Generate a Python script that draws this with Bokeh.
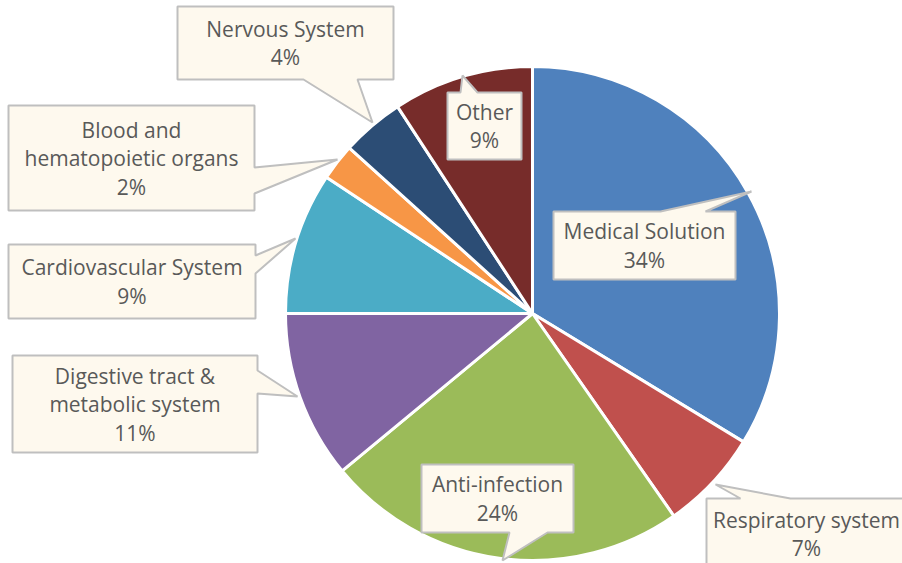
import math
from bokeh.plotting import figure
from bokeh.models import Range1d, ColumnDataSource
from bokeh.core.properties import value
from bokeh.embed import file_html
from bokeh.resources import INLINE

# ---- data ----
categories = ["Medical Solution", "Respiratory system", "Anti-infection",
              "Digestive tract &\nmetabolic system", "Cardiovascular System",
              "Blood and\nhematopoietic organs", "Nervous System", "Other"]
shares = [33.7, 6.6, 23.7, 11.0, 9.3, 2.4, 4.1, 9.2]
colors = ["#4F81BD", "#C0504D", "#9BBB59", "#8064A2", "#4BACC6",
          "#F79646", "#2C4D75", "#772C2A"]

# ---- layout (screen pixel coordinates) ----
CX, CY, R = 532, 313, 247
# callout boxes: (x0, y0, x1, y1), pointer side, pointer base (a, b), tip (tx, ty)
callouts = [
    ((553, 211, 735, 279), "top", (660, 705), (751, 191)),
    ((706, 498, 906, 569), "top", (740, 790), (715, 484)),
    ((421, 464, 573, 532), "bottom", (509, 547), (502, 560)),
    ((12, 355, 257, 452), "right", (370, 393), (297, 396)),
    ((8, 244, 255, 318), "right", (255, 273), (295, 238)),
    ((8, 105, 254, 210), "right", (167, 193), (337, 159)),
    ((177, 6, 393, 79), "bottom", (303, 357), (372, 122)),
    ((447, 92, 521, 159), "top", (460, 477), (462, 75)),
]
LINE_H = 28.5

W, H = 902, 563
p = figure(width=W, height=H, output_backend="svg", toolbar_location=None,
           x_range=Range1d(0, W), y_range=Range1d(-H, 0),
           min_border=0)
p.axis.visible = False
p.grid.visible = False
p.outline_line_color = None
p.background_fill_color = "white"
p.border_fill_color = "white"

total = sum(shares)
starts, ends = [], []
acc = 0.0
for s in shares:
    starts.append(math.pi / 2 - 2 * math.pi * acc / total)
    acc += s
    ends.append(math.pi / 2 - 2 * math.pi * acc / total)

src = ColumnDataSource(dict(start=starts, end=ends, color=colors,
                            cat=categories, share=shares))
p.wedge(x=CX, y=-CY, radius=R, start_angle="start", end_angle="end",
        direction="clock", fill_color="color", line_color="white",
        line_width=3, source=src)

xs_list, ys_list = [], []
tx_list, ty_list, txt_list = [], [], []
for (box, side, base, tip), cat, s in zip(callouts, categories, shares):
    x0, y0, x1, y1 = box
    a, b = base
    if side == "top":
        pts = [(x0, y0), (a, y0), tip, (b, y0), (x1, y0), (x1, y1), (x0, y1)]
    elif side == "bottom":
        pts = [(x0, y0), (x1, y0), (x1, y1), (b, y1), tip, (a, y1), (x0, y1)]
    elif side == "right":
        pts = [(x0, y0), (x1, y0), (x1, a), tip, (x1, b), (x1, y1), (x0, y1)]
    else:
        pts = [(x0, y0), (x1, y0), (x1, y1), (x0, y1), (x0, b), tip, (x0, a)]
    xs_list.append([q[0] for q in pts])
    ys_list.append([-q[1] for q in pts])
    lines = cat.split("\n") + [f"{round(s)}%"]
    cxm = (x0 + x1) / 2
    cym = (y0 + y1) / 2
    n = len(lines)
    for i, ln in enumerate(lines):
        tx_list.append(cxm)
        ty_list.append(-(cym + (i - (n - 1) / 2) * LINE_H))
        txt_list.append(ln)

p.patches(xs_list, ys_list, fill_color="#FEF9EE", line_color="#BFBFBF",
          line_width=2)
p.text(x=tx_list, y=ty_list, text=txt_list, text_align="center",
       text_baseline="middle", text_font=value("Open Sans"),
       text_font_size="21px", text_color="#595959")

open("out.html", "w").write(file_html(p, INLINE))
